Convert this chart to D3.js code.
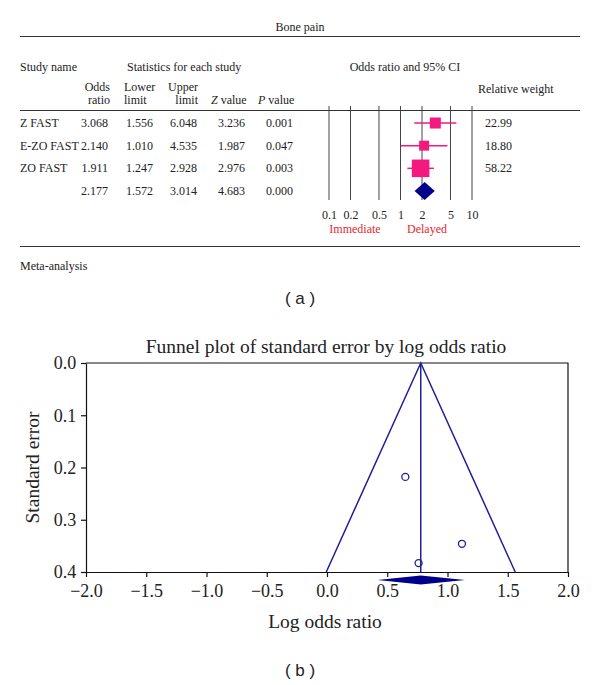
<!DOCTYPE html>
<html>
<head>
<meta charset="utf-8">
<script src="https://cdn.jsdelivr.net/npm/d3@7"></script>
<style>
  body { margin: 0; background: #fff; }
  svg { display: block; }
  text { font-family: "Liberation Serif", "DejaVu Serif", serif; fill: #222; }
  .sans { font-family: "Liberation Sans", Arial, sans-serif; }
</style>
</head>
<body>
<div id="chart"></div>
<script>
// forest plot table
const studyNames = ["Z FAST", "E-ZO FAST", "ZO FAST"];
const oddsRatio = [3.068, 2.140, 1.911];
const lowerLimit = [1.556, 1.010, 1.247];
const upperLimit = [6.048, 4.535, 2.928];
const zValue = [3.236, 1.987, 2.976];
const pValue = [0.001, 0.047, 0.003];
const relWeight = [22.99, 18.80, 58.22];
const summary = {or: 2.177, lower: 1.572, upper: 3.014, z: 4.683, p: 0.000};
const forestTicks = [0.1, 0.2, 0.5, 1, 2, 5, 10];

// funnel plot points
const logOdds = [1.12, 0.76, 0.65];
const stdErr = [0.346, 0.383, 0.218];
const funnelXTicks = [-2.0, -1.5, -1.0, -0.5, 0.0, 0.5, 1.0, 1.5, 2.0];
const funnelYTicks = [0.0, 0.1, 0.2, 0.3, 0.4];

const W = 600, H = 685;
const pink = "#f4197f", navy = "#00008b", funnelBlue = "#1f1f99", red = "#e5262f";

const svg = d3.select("#chart").append("svg")
    .attr("width", W)
    .attr("height", H);

// ---------- panel (a) ----------
const a = svg.append("g").attr("class", "panel-a").style("font-size", "12px");

a.append("text").attr("x", 300).attr("y", 31).attr("text-anchor", "middle").text("Bone pain");
[36.5, 110.5, 246.5].forEach(y => {
  a.append("line").attr("x1", 20).attr("x2", 580).attr("y1", y).attr("y2", y)
      .attr("stroke", "#333").attr("stroke-width", 1.2);
});

a.append("text").attr("x", 20).attr("y", 71).text("Study name");
a.append("text").attr("x", 127).attr("y", 71).text("Statistics for each study");
a.append("text").attr("x", 405).attr("y", 71).attr("text-anchor", "middle").text("Odds ratio and 95% CI");
a.append("text").attr("x", 478).attr("y", 93).text("Relative weight");

const head = [
  {x: 110, anchor: "end", lines: ["Odds", "ratio"]},
  {x: 124, anchor: "start", lines: ["Lower", "limit"]},
  {x: 198, anchor: "end", lines: ["Upper", "limit"]}
];
head.forEach(h => {
  h.lines.forEach((s, i) => {
    a.append("text").attr("x", h.x).attr("y", 91 + i * 13).attr("text-anchor", h.anchor).text(s);
  });
});
const zt = a.append("text").attr("x", 211).attr("y", 104);
zt.append("tspan").style("font-style", "italic").text("Z");
zt.append("tspan").text(" value");
const pt = a.append("text").attr("x", 258).attr("y", 104);
pt.append("tspan").style("font-style", "italic").text("P");
pt.append("tspan").text(" value");

const rowY = d3.scalePoint().domain([0, 1, 2, 3]).range([123, 191]);
const f3 = d3.format(".3f");

const rows = studyNames.map((n, i) => ({
  name: n, or: oddsRatio[i], lower: lowerLimit[i], upper: upperLimit[i],
  z: zValue[i], p: pValue[i], w: relWeight[i], idx: i
}));
const allRows = rows.concat([Object.assign({name: "", w: null, idx: 3}, summary)]);

const cols = [
  {key: "or", x: 108}, {key: "lower", x: 153}, {key: "upper", x: 197},
  {key: "z", x: 245}, {key: "p", x: 293}
];
allRows.forEach(r => {
  const y = rowY(r.idx) + 4;
  a.append("text").attr("x", 20).attr("y", y).text(r.name);
  cols.forEach(c => {
    a.append("text").attr("x", c.x).attr("y", y).attr("text-anchor", "end").text(f3(r[c.key]));
  });
  if (r.w != null) {
    a.append("text").attr("x", 485).attr("y", y).text(d3.format(".2f")(r.w));
  }
});

// forest plot
const fx = d3.scaleLog().domain([0.1, 10]).range([329, 472]);
a.selectAll("line.grid").data(forestTicks).enter().append("line")
    .attr("class", "grid")
    .attr("x1", d => fx(d)).attr("x2", d => fx(d))
    .attr("y1", 106).attr("y2", 200)
    .attr("stroke", "#444").attr("stroke-width", 1);

const fAxis = a.append("g").attr("transform", "translate(0,207)")
    .call(d3.axisBottom(fx).tickValues(forestTicks).tickFormat(d => d).tickSize(0));
fAxis.select(".domain").remove();
fAxis.selectAll("text").style("font-size", "12px")
    .style("font-family", "Liberation Serif, serif").attr("fill", "#222");

a.append("text").attr("x", 355).attr("y", 233).attr("text-anchor", "middle").style("fill", red).text("Immediate");
a.append("text").attr("x", 427).attr("y", 233).attr("text-anchor", "middle").style("fill", red).text("Delayed");

const sq = d3.scaleSqrt().domain([0, 100]).range([0, 23]);
const study = a.selectAll("g.study").data(rows).enter().append("g").attr("class", "study");
study.append("line")
    .attr("x1", d => fx(d.lower)).attr("x2", d => fx(d.upper))
    .attr("y1", d => rowY(d.idx)).attr("y2", d => rowY(d.idx))
    .attr("stroke", pink).attr("stroke-width", 1.5);
study.append("rect")
    .attr("x", d => fx(d.or) - sq(d.w) / 2)
    .attr("y", d => rowY(d.idx) - sq(d.w) / 2)
    .attr("width", d => sq(d.w)).attr("height", d => sq(d.w))
    .attr("fill", pink);

const sy = rowY(3);
a.append("path")
    .attr("d", `M${fx(summary.lower)},${sy} L${fx(summary.or)},${sy - 9} L${fx(summary.upper)},${sy} L${fx(summary.or)},${sy + 9} Z`)
    .attr("fill", navy);

a.append("text").attr("x", 20).attr("y", 270).text("Meta-analysis");
svg.append("text").attr("class", "sans").attr("x", 300).attr("y", 304)
    .attr("text-anchor", "middle").style("font-size", "17px").text("( a )");

// ---------- panel (b) ----------
const b = svg.append("g").attr("class", "panel-b");
const x = d3.scaleLinear().domain([-2, 2]).range([86, 568]);
const y = d3.scaleLinear().domain([0, 0.4]).range([363, 572]);

b.append("text").attr("x", 326).attr("y", 353).attr("text-anchor", "middle")
    .style("font-size", "19.5px").text("Funnel plot of standard error by log odds ratio");

// frame top/right
b.append("path")
    .attr("d", `M${x(-2)},${y(0)} H${x(2)} V${y(0.4)}`)
    .attr("fill", "none").attr("stroke", "#111").attr("stroke-width", 1.2);

const xAxis = b.append("g").attr("transform", `translate(0,${y(0.4)})`)
    .call(d3.axisBottom(x).tickValues(funnelXTicks).tickFormat(d3.format(".1f")).tickSizeInner(5).tickSizeOuter(0));
const yAxis = b.append("g").attr("transform", `translate(${x(-2)},0)`)
    .call(d3.axisLeft(y).tickValues(funnelYTicks).tickFormat(d3.format(".1f")).tickSizeInner(5).tickSizeOuter(0));
[xAxis, yAxis].forEach(g => {
  g.selectAll("path, line").attr("stroke", "#111").attr("stroke-width", 1.2);
  g.selectAll("text").style("font-size", "18px")
      .style("font-family", "Liberation Serif, serif").attr("fill", "#222");
});
xAxis.selectAll("text").attr("dy", "0.95em");
yAxis.selectAll("text").attr("dx", "-0.1em");

b.append("text").attr("x", 325).attr("y", 628).attr("text-anchor", "middle")
    .style("font-size", "19.5px").text("Log odds ratio");
b.append("text").attr("transform", `translate(39,${(y(0) + y(0.4)) / 2}) rotate(-90)`)
    .attr("text-anchor", "middle").style("font-size", "19.5px").text("Standard error");

// funnel
const mean = Math.log(summary.or);
const seMax = 0.4;
b.append("path")
    .attr("d", `M${x(mean - 1.96 * seMax)},${y(seMax)} L${x(mean)},${y(0)} L${x(mean + 1.96 * seMax)},${y(seMax)}`)
    .attr("fill", "none").attr("stroke", funnelBlue).attr("stroke-width", 1.5);
b.append("line")
    .attr("x1", x(mean)).attr("x2", x(mean)).attr("y1", y(0)).attr("y2", y(seMax))
    .attr("stroke", funnelBlue).attr("stroke-width", 1.5);

b.selectAll("circle.pt").data(logOdds).enter().append("circle")
    .attr("class", "pt")
    .attr("cx", d => x(d))
    .attr("cy", (d, i) => y(stdErr[i]))
    .attr("r", 3.5)
    .attr("fill", "none").attr("stroke", funnelBlue).attr("stroke-width", 1.3);

const dy = y(0.4) + 8;
b.append("path")
    .attr("d", `M${x(Math.log(summary.lower)) - 4},${dy} L${x(mean)},${dy - 4.5} L${x(Math.log(summary.upper)) + 5},${dy} L${x(mean)},${dy + 4.5} Z`)
    .attr("fill", navy);

svg.append("text").attr("class", "sans").attr("x", 300).attr("y", 676)
    .attr("text-anchor", "middle").style("font-size", "17px").text("( b )");
</script>
</body>
</html>
